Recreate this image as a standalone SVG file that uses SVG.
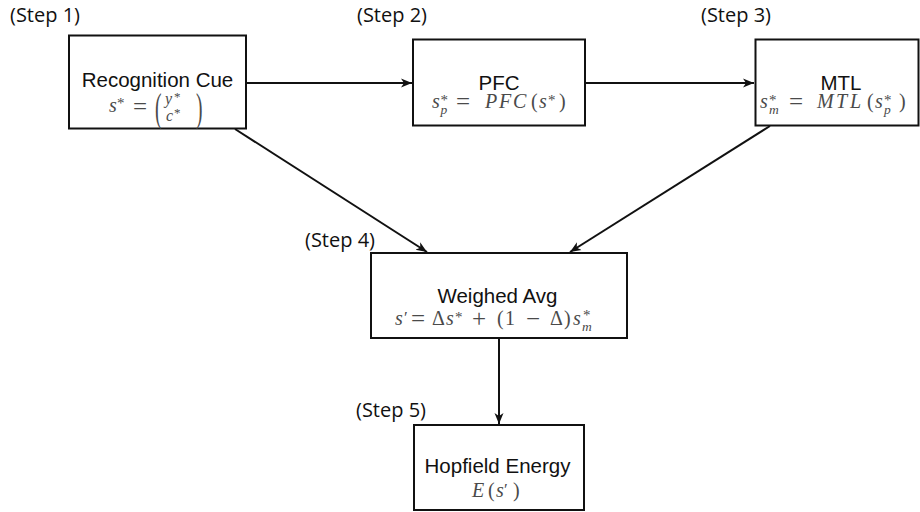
<svg xmlns="http://www.w3.org/2000/svg" width="920" height="512" viewBox="0 0 920 512">
<style>
.box{fill:#fff;stroke:#111;stroke-width:2}
.t{font-family:"Liberation Sans",Arial,sans-serif;font-size:20.5px;fill:#111;text-anchor:middle}
.st{font-family:"Open Sans","DejaVu Sans",sans-serif;font-size:20px;fill:#111}
.m{font-family:"Liberation Serif","DejaVu Serif",serif;font-size:20px;font-style:italic;fill:#4a4a4a}
.up{font-style:normal}
.sm{font-size:13.5px}
.sp{font-size:15px;font-style:normal}
.eq{font-size:25px;font-style:normal}
.big{font-size:39px;font-style:normal}
.edge{fill:none;stroke:#111;stroke-width:2}
</style>
<defs>
<marker id="ah" markerUnits="userSpaceOnUse" markerWidth="12" markerHeight="10" refX="11" refY="5" orient="auto">
<path d="M0,0.5 L11,5 L0,9.5 L3,5 Z" fill="#111"/>
</marker>
</defs>
<rect width="920" height="512" fill="#fff"/>

<g id="labels">
<text class="st" x="10" y="22">(Step 1)</text>
<text class="st" x="357" y="22">(Step 2)</text>
<text class="st" x="701" y="22">(Step 3)</text>
<text class="st" x="305" y="247">(Step 4)</text>
<text class="st" x="356" y="417">(Step 5)</text>
</g>

<g id="connectors">
<line class="edge" x1="246" y1="83" x2="412" y2="83" marker-end="url(#ah)"/>
<line class="edge" x1="586" y1="83" x2="754" y2="83" marker-end="url(#ah)"/>
<line class="edge" x1="235" y1="129" x2="427" y2="252" marker-end="url(#ah)"/>
<line class="edge" x1="770" y1="126" x2="570" y2="252" marker-end="url(#ah)"/>
<line class="edge" x1="499" y1="338" x2="499" y2="424" marker-end="url(#ah)"/>
</g>

<g id="n1">
<rect class="box" x="69" y="35.5" width="177" height="93"/>
<text class="t" x="157.5" y="87">Recognition Cue</text>
<text class="m"><tspan x="109" y="112">s</tspan><tspan class="sp" x="117" y="108">*</tspan><tspan class="eq" x="133" y="115">=</tspan><tspan style="font-size:16px" x="165" y="104">y</tspan><tspan class="sp" style="font-size:13px" x="174" y="101">*</tspan><tspan style="font-size:16px" x="166" y="121">c</tspan><tspan class="sp" style="font-size:13px" x="174" y="117">*</tspan></text>
<text class="m big" transform="translate(155,121) scale(0.5,1)">(</text>
<text class="m big" transform="translate(196,121) scale(0.5,1)">)</text>
</g>

<g id="n2">
<rect class="box" x="413" y="39.5" width="172" height="86"/>
<text class="t" x="499" y="90">PFC</text>
<text class="m"><tspan x="432" y="108">s</tspan><tspan class="sp" x="440.5" y="105">*</tspan><tspan class="sm" x="440.5" y="114">p</tspan><tspan class="eq" x="456" y="110">=</tspan><tspan x="485 499 513" y="108">PFC</tspan><tspan class="up" x="531" y="108">(</tspan><tspan x="539" y="108">s</tspan><tspan class="sp" x="548" y="105">*</tspan><tspan class="up" x="559" y="108">)</tspan></text>
</g>

<g id="n3">
<rect class="box" x="755.5" y="39.5" width="163" height="86"/>
<text class="t" x="841" y="90">MTL</text>
<text class="m"><tspan x="760" y="108">s</tspan><tspan class="sp" x="769" y="105">*</tspan><tspan class="sm" x="769" y="114">m</tspan><tspan class="eq" x="789" y="110">=</tspan><tspan x="817 836 850" y="108">MTL</tspan><tspan class="up" x="867" y="108">(</tspan><tspan x="875" y="108">s</tspan><tspan class="sp" x="884" y="105">*</tspan><tspan class="sm" x="884" y="114">p</tspan><tspan class="up" x="899" y="108">)</tspan></text>
</g>

<g id="n4">
<rect class="box" x="371" y="253" width="256" height="85"/>
<text class="t" x="497.5" y="303">Weighed Avg</text>
<text class="m"><tspan x="395" y="325">s</tspan><tspan class="up" style="font-size:17px" x="404" y="323">′</tspan><tspan class="eq" x="411" y="327">=</tspan><tspan class="up" x="432" y="325">Δ</tspan><tspan x="446" y="325">s</tspan><tspan class="sp" x="455" y="322">*</tspan><tspan class="eq" x="472" y="327">+</tspan><tspan class="up" x="497" y="325">(</tspan><tspan class="up" x="505" y="325">1</tspan><tspan class="eq" x="526" y="327">−</tspan><tspan class="up" x="550" y="325">Δ</tspan><tspan class="up" x="564" y="325">)</tspan><tspan x="573" y="325">s</tspan><tspan class="sp" x="583" y="320">*</tspan><tspan class="sm" x="582" y="331">m</tspan></text>
</g>

<g id="n5">
<rect class="box" x="414" y="425" width="170" height="85"/>
<text class="t" x="497.5" y="473">Hopfield Energy</text>
<text class="m"><tspan x="472" y="497">E</tspan><tspan class="up" x="488" y="497">(</tspan><tspan x="496" y="497">s</tspan><tspan class="up" style="font-size:17px" x="504" y="495">′</tspan><tspan class="up" x="513" y="497">)</tspan></text>
</g>
</svg>
